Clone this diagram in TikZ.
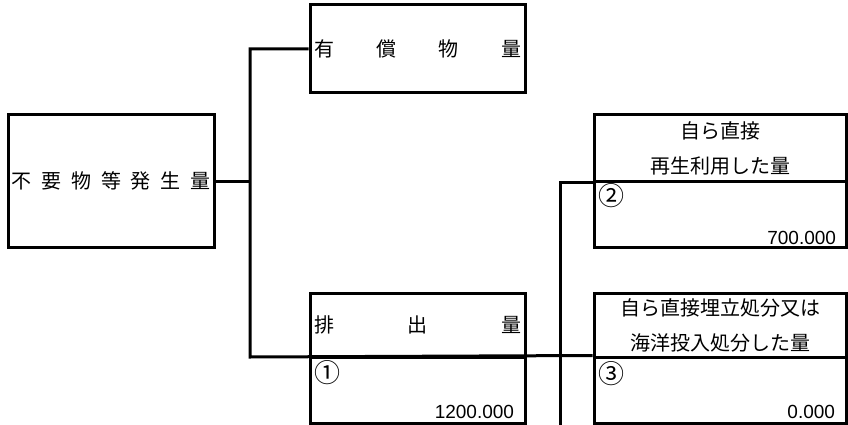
\documentclass[tikz,border=0pt]{standalone}
\usepackage{fontspec}
\usepackage{tikz}
\newfontfamily\jpfont{Noto Sans CJK JP}
\newfontfamily\numfont{Liberation Sans}

\begin{document}
\begin{tikzpicture}[x=1pt, y=-1pt, line width=3pt,
	box/.style={draw, inner xsep=4pt, inner ysep=0pt, font=\jpfont\fontsize{20}{35}\selectfont},
	midbox/.style={box, minimum width=215pt, text width=207pt},
	sidebox/.style={box, minimum width=252pt, text width=244pt, align=center},
	num/.style={anchor=base east, inner sep=0pt, font=\numfont\fontsize{19}{22}\selectfont},
	circnum/.style={anchor=center, inner sep=0pt, font=\jpfont\fontsize{26}{28}\selectfont}]
	\useasboundingbox (0,0) rectangle (848,425);
	\node[box, minimum width=206pt, minimum height=132pt, text width=198pt] (gen) at (111,181) {不\hfill 要\hfill 物\hfill 等\hfill 発\hfill 生\hfill 量};
	\node[midbox, minimum height=88pt] (yusho) at (417.5,49) {有\hfill 償\hfill 物\hfill 量};
	\node[midbox, minimum height=64pt] (haishutsu) at (417.5,325) {排\hfill 出\hfill 量};
	\node[midbox, minimum height=66pt] (haishutsuval) at (417.5,390) {};
	\node[sidebox, minimum height=66pt] (saisei) at (720,148) {自ら直接\\再生利用した量};
	\node[sidebox, minimum height=66pt] (saiseival) at (720,214) {};
	\node[sidebox, minimum height=64pt] (umetate) at (720,325) {自ら直接埋立処分又は\\海洋投入処分した量};
	\node[sidebox, minimum height=66pt] (umetateval) at (720,390) {};
	\node[circnum] (m1) at ([xshift=19pt, yshift=-17pt]haishutsuval.north west) {①};
	\node[circnum] (m2) at ([xshift=19pt, yshift=-16pt]saiseival.north west) {②};
	\node[circnum] (m3) at ([xshift=19pt, yshift=-18pt]umetateval.north west) {③};
	\node[num] (v1) at ([xshift=-11pt, yshift=6pt]haishutsuval.south east) {1200.000};
	\node[num] (v2) at ([xshift=-10pt, yshift=4pt]saiseival.south east) {700.000};
	\node[num] (v3) at ([xshift=-11pt, yshift=6pt]umetateval.south east) {0.000};
	\coordinate (jgen) at (250,181);
	\coordinate (jbot) at (250,357);
	\coordinate (jright) at (560,425);
	\draw (gen.east) -- (jgen);
	\draw (yusho.west) -| (jbot) -- (umetateval.north west);
	\draw (saisei.south west) -| (jright);
\end{tikzpicture}
\end{document}
